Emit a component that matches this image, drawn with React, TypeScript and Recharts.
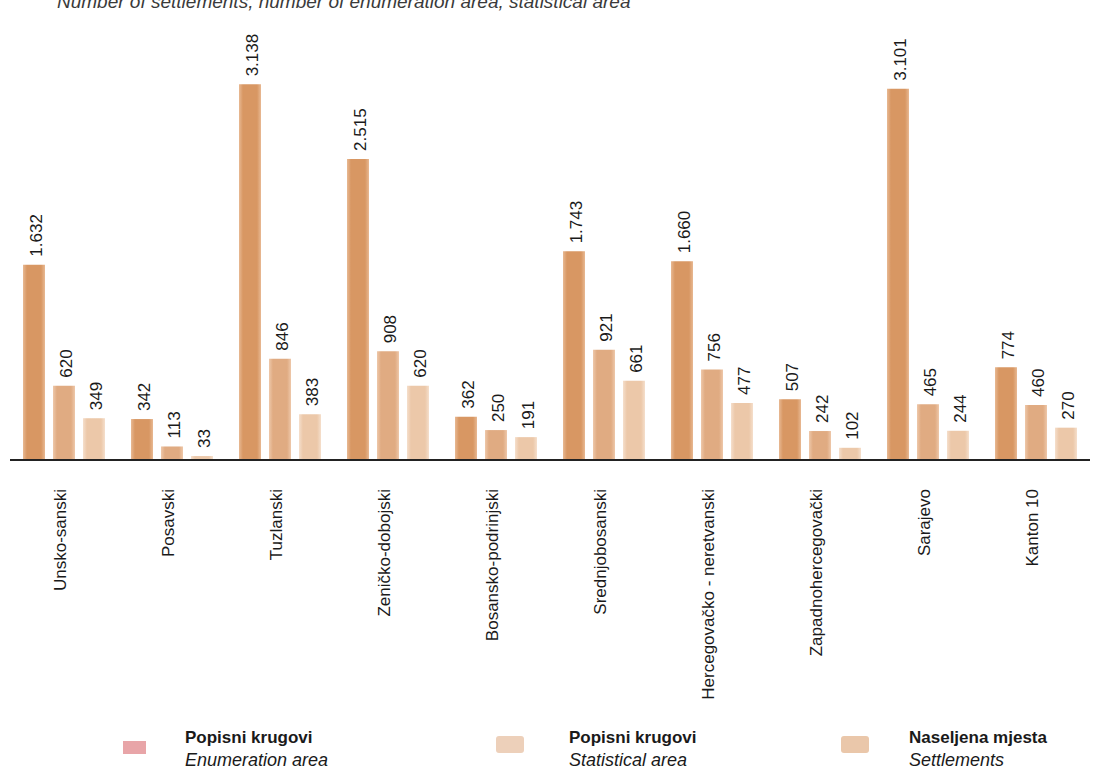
import { BarChart, Bar, XAxis, YAxis, LabelList } from "recharts";

const regions = [
  "Unsko-sanski",
  "Posavski",
  "Tuzlanski",
  "Zeničko-dobojski",
  "Bosansko-podrinjski",
  "Srednjobosanski",
  "Hercegovačko - neretvanski",
  "Zapadnohercegovački",
  "Sarajevo",
  "Kanton 10",
];
const enumerationArea = [1632, 342, 3138, 2515, 362, 1743, 1660, 507, 3101, 774];
const statisticalArea = [620, 113, 846, 908, 250, 921, 756, 242, 465, 460];
const settlements = [349, 33, 383, 620, 191, 661, 477, 102, 244, 270];

const data = regions.map((name, i) => ({
  name,
  enumeration: enumerationArea[i],
  statistical: statisticalArea[i],
  settlements: settlements[i],
}));

const FONT = "'Liberation Sans', Arial, sans-serif";

const fmt = (v: number) => String(v).replace(/\B(?=(\d{3})+(?!\d))/g, ".");

const ValueLabel = (props: any) => {
  const { x, y, width, value } = props;
  const cx = x + width / 2 + 3;
  const ty = y - 8;
  return (
    <text
      x={cx}
      y={ty}
      transform={`rotate(-90, ${cx}, ${ty})`}
      textAnchor="start"
      dominantBaseline="central"
      fontSize={17}
      fontFamily={FONT}
      fill="#1a1a1a"
    >
      {fmt(value)}
    </text>
  );
};

const CategoryTick = (props: any) => {
  const { x, y, payload } = props;
  const tx = x - 4;
  const ty = y + 21;
  return (
    <text
      x={tx}
      y={ty}
      transform={`rotate(-90, ${tx}, ${ty})`}
      textAnchor="end"
      dominantBaseline="central"
      fontSize={17}
      fontFamily={FONT}
      fill="#1a1a1a"
    >
      {payload.value}
    </text>
  );
};

const legendItems = [
  { left: 123, top: 741, w: 23, h: 13, radius: 0, color: "#E8A5A8", textLeft: 185, title: "Popisni krugovi", sub: "Enumeration area" },
  { left: 496, top: 736, w: 28, h: 17, radius: 3, color: "#EDD0BA", textLeft: 569, title: "Popisni krugovi", sub: "Statistical area" },
  { left: 841, top: 736, w: 28, h: 17, radius: 3, color: "#EAC7AA", textLeft: 909, title: "Naseljena mjesta", sub: "Settlements" },
];

export default function App() {
  return (
    <div
      style={{
        position: "absolute",
        top: 0,
        left: 0,
        width: 1097,
        height: 770,
        overflow: "hidden",
        background: "#fff",
        fontFamily: FONT,
      }}
    >
      <div
        style={{
          position: "absolute",
          top: -8,
          left: 57,
          fontSize: 19,
          lineHeight: "19px",
          fontStyle: "italic",
          color: "#3a3a3a",
          whiteSpace: "nowrap",
        }}
      >
        Number of settlements, number of enumeration area, statistical area
      </div>

      <BarChart
        width={1097}
        height={770}
        data={data}
        margin={{ top: 41, right: 7, bottom: 280, left: 10 }}
        barSize={22}
        barGap={8}
        style={{ position: "absolute", top: 0, left: 0 }}
      >
        <defs>
          <linearGradient id="gDark" x1="0" y1="0" x2="1" y2="0">
            <stop offset="0" stopColor="#E8B993" />
            <stop offset="0.18" stopColor="#D89763" />
            <stop offset="0.82" stopColor="#D89763" />
            <stop offset="1" stopColor="#E8B993" />
          </linearGradient>
          <linearGradient id="gMid" x1="0" y1="0" x2="1" y2="0">
            <stop offset="0" stopColor="#EEC8AA" />
            <stop offset="0.18" stopColor="#E0AB82" />
            <stop offset="0.82" stopColor="#E0AB82" />
            <stop offset="1" stopColor="#EEC8AA" />
          </linearGradient>
          <linearGradient id="gLight" x1="0" y1="0" x2="1" y2="0">
            <stop offset="0" stopColor="#F5DFCC" />
            <stop offset="0.18" stopColor="#ECC8A9" />
            <stop offset="0.82" stopColor="#ECC8A9" />
            <stop offset="1" stopColor="#F5DFCC" />
          </linearGradient>
        </defs>
        <XAxis
          dataKey="name"
          height={30}
          tickLine={false}
          axisLine={{ stroke: "#222", strokeWidth: 2 }}
          tick={<CategoryTick />}
          interval={0}
        />
        <YAxis hide domain={[0, 3500]} />
        <Bar dataKey="enumeration" fill="url(#gDark)" isAnimationActive={false}>
          <LabelList dataKey="enumeration" content={<ValueLabel />} />
        </Bar>
        <Bar dataKey="statistical" fill="url(#gMid)" isAnimationActive={false}>
          <LabelList dataKey="statistical" content={<ValueLabel />} />
        </Bar>
        <Bar dataKey="settlements" fill="url(#gLight)" isAnimationActive={false}>
          <LabelList dataKey="settlements" content={<ValueLabel />} />
        </Bar>
      </BarChart>

      {legendItems.map((it) => (
        <div key={it.sub}>
          <div
            style={{
              position: "absolute",
              left: it.left,
              top: it.top,
              width: it.w,
              height: it.h,
              borderRadius: it.radius,
              background: it.color,
            }}
          />
          <div
            style={{
              position: "absolute",
              left: it.textLeft,
              top: 727,
              fontSize: 17,
              lineHeight: "22px",
              color: "#1a1a1a",
              whiteSpace: "nowrap",
            }}
          >
            <div style={{ fontWeight: "bold" }}>{it.title}</div>
            <div style={{ fontStyle: "italic", fontSize: 18 }}>{it.sub}</div>
          </div>
        </div>
      ))}
    </div>
  );
}
